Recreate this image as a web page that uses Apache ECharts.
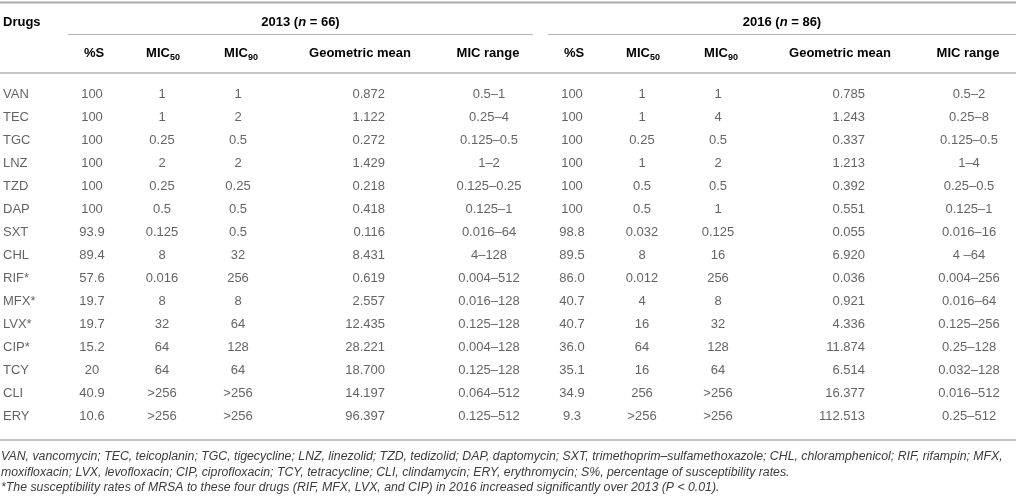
<!DOCTYPE html>
<html>
<head>
<meta charset="utf-8">
<script src="https://cdn.jsdelivr.net/npm/echarts@6/dist/echarts.min.js"></script>
<style>
  html, body { margin: 0; padding: 0; background: #fff; }
  #chart { width: 1016px; height: 500px; }
</style>
</head>
<body>
<div id="chart"></div>
<script>
// table data
const drugs = ["VAN", "TEC", "TGC", "LNZ", "TZD", "DAP", "SXT", "CHL", "RIF*", "MFX*", "LVX*", "CIP*", "TCY", "CLI", "ERY"];

const pctS2013 = ["100", "100", "100", "100", "100", "100", "93.9", "89.4", "57.6", "19.7", "19.7", "15.2", "20", "40.9", "10.6"];
const mic50_2013 = ["1", "1", "0.25", "2", "0.25", "0.5", "0.125", "8", "0.016", "8", "32", "64", "64", ">256", ">256"];
const mic90_2013 = ["1", "2", "0.5", "2", "0.25", "0.5", "0.5", "32", "256", "8", "64", "128", "64", ">256", ">256"];
const geoMean2013 = ["0.872", "1.122", "0.272", "1.429", "0.218", "0.418", "0.116", "8.431", "0.619", "2.557", "12.435", "28.221", "18.700", "14.197", "96.397"];
const range2013 = ["0.5–1", "0.25–4", "0.125–0.5", "1–2", "0.125–0.25", "0.125–1", "0.016–64", "4–128", "0.004–512", "0.016–128", "0.125–128", "0.004–128", "0.125–128", "0.064–512", "0.125–512"];

const pctS2016 = ["100", "100", "100", "100", "100", "100", "98.8", "89.5", "86.0", "40.7", "40.7", "36.0", "35.1", "34.9", "9.3"];
const mic50_2016 = ["1", "1", "0.25", "1", "0.5", "0.5", "0.032", "8", "0.012", "4", "16", "64", "16", "256", ">256"];
const mic90_2016 = ["1", "4", "0.5", "2", "0.5", "1", "0.125", "16", "256", "8", "32", "128", "64", ">256", ">256"];
const geoMean2016 = ["0.785", "1.243", "0.337", "1.213", "0.392", "0.551", "0.055", "6.920", "0.036", "0.921", "4.336", "11.874", "6.514", "16.377", "112.513"];
const range2016 = ["0.5–2", "0.25–8", "0.125–0.5", "1–4", "0.25–0.5", "0.125–1", "0.016–16", "4 –64", "0.004–256", "0.016–64", "0.125–256", "0.25–128", "0.032–128", "0.016–512", "0.25–512"];

const groupTitles = [["2013", "66"], ["2016", "86"]];
const colHeads = ["%S", "MIC50", "MIC90", "Geometric mean", "MIC range"];

const footnotes = [
  "VAN, vancomycin; TEC, teicoplanin; TGC, tigecycline; LNZ, linezolid; TZD, tedizolid; DAP, daptomycin; SXT, trimethoprim–sulfamethoxazole; CHL, chloramphenicol; RIF, rifampin; MFX,",
  "moxifloxacin; LVX, levofloxacin; CIP, ciprofloxacin; TCY, tetracycline; CLI, clindamycin; ERY, erythromycin; S%, percentage of susceptibility rates.",
  "*The susceptibility rates of MRSA to these four drugs (RIF, MFX, LVX, and CIP) in 2016 increased significantly over 2013 (P < 0.01)."
];

// layout
const font = "'Liberation Sans', Arial, Helvetica, sans-serif";
const textColor = "#3c3c3c";
const headColor = "#222";
const ruleColor = "#b4b4b4";
const groupStart = [68, 548];
const groupEnd = [533, 1016];
// offsets from the group start: [header x, value x, value align]
const colLayout = [
  [26, 24, "center"],
  [95, 94, "center"],
  [173, 170, "center"],
  [292, 317, "right"],
  [420, 421, "center"]
];

const chart = echarts.init(document.getElementById("chart"), null, { renderer: "canvas" });

function columnSeries(name, x, align, values) {
  return {
    name: name,
    type: "scatter",
    symbolSize: 0,
    silent: true,
    data: values.map((v, i) => [x, drugs[i], v]),
    label: {
      show: true,
      position: "inside",
      align: align,
      verticalAlign: "middle",
      formatter: (p) => p.value[2],
      fontFamily: font,
      fontSize: 13,
      color: textColor
    }
  };
}

let series = [columnSeries("drugs", 3, "left", drugs)];
const groups = [
  [pctS2013, mic50_2013, mic90_2013, geoMean2013, range2013],
  [pctS2016, mic50_2016, mic90_2016, geoMean2016, range2016]
];
groups.forEach((cols, g) => {
  cols.forEach((values, c) => {
    series.push(columnSeries("g" + g + "c" + c, groupStart[g] + colLayout[c][1], colLayout[c][2], values));
  });
});

const headRich = {
  b: { fontFamily: font, fontSize: 13, fontWeight: "bold", color: headColor, lineHeight: 18 },
  bi: { fontFamily: font, fontSize: 13, fontWeight: "bold", fontStyle: "italic", color: headColor, lineHeight: 18 },
  s: { fontFamily: font, fontSize: 9, fontWeight: "bold", color: headColor, lineHeight: 9, verticalAlign: "bottom" }
};

function headText(label) {
  let m = label.match(/^MIC(\d+)$/);
  if (m) return "{b|MIC}{s|" + m[1] + "}";
  return "{b|" + label + "}";
}

let graphics = [];
function rule(x1, x2, y, w, color) {
  graphics.push({
    type: "line",
    silent: true,
    shape: { x1: x1, y1: y, x2: x2, y2: y },
    style: { stroke: color || ruleColor, lineWidth: w || 1.5 }
  });
}
function text(x, y, str, align) {
  graphics.push({
    type: "text",
    silent: true,
    x: x,
    y: y,
    style: { text: str, rich: headRich, align: align, verticalAlign: "middle" }
  });
}

rule(0, 1016, 2.5, 2, "#a8a8a8");
text(3, 22, "{b|Drugs}", "left");
groupTitles.forEach((t, g) => {
  text((groupStart[g] + groupEnd[g]) / 2, 22, "{b|" + t[0] + " (}{bi|n}{b| = " + t[1] + ")}", "center");
  rule(groupStart[g], groupEnd[g], 34.5, 1.2);
  colHeads.forEach((h, c) => {
    text(groupStart[g] + colLayout[c][0], 53, headText(h), "center");
  });
});
rule(0, 1016, 73, 1.5);
rule(0, 1016, 440, 1.5);

footnotes.forEach((f, i) => {
  graphics.push({
    type: "text",
    silent: true,
    x: 1,
    y: 457 + i * 15.5,
    style: {
      text: f,
      fontFamily: font,
      fontSize: 12.3,
      fontStyle: "italic",
      fill: textColor,
      align: "left",
      verticalAlign: "middle"
    }
  });
});

const option = {
  animation: false,
  grid: { left: 0, right: 0, top: 82.5, height: 345 },
  xAxis: { type: "value", min: 0, max: 1016, show: false },
  yAxis: { type: "category", data: drugs, inverse: true, show: false },
  graphic: graphics,
  series: series
};

chart.setOption(option);
window.addEventListener("resize", chart.resize);
</script>
</body>
</html>
